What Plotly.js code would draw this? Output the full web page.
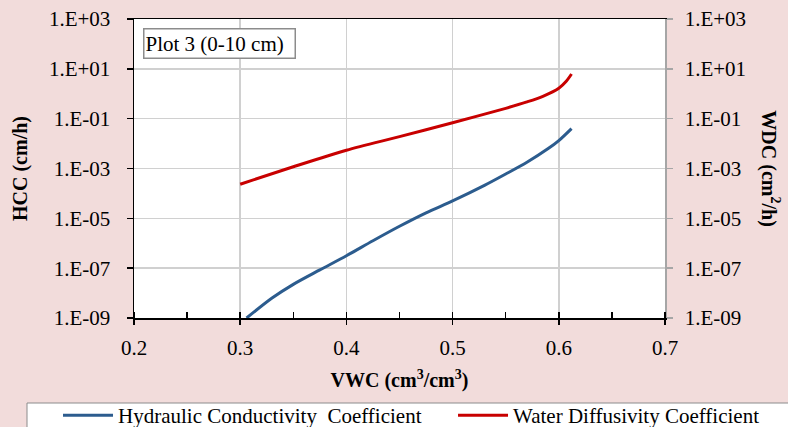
<!DOCTYPE html>
<html><head><meta charset="utf-8">
<script src="https://cdn.plot.ly/plotly-3.0.1.min.js"></script>
<style>html,body{margin:0;padding:0;background:#F2DCDB;} #chart{width:788px;height:427px;}</style>
</head><body><div id="chart"></div>
<script>
// Hydraulic Conductivity Coefficient (cm/h) vs VWC
const vwcHCC = [0.306, 0.330, 0.350, 0.375, 0.400, 0.425, 0.450, 0.475, 0.500, 0.530, 0.550, 0.570, 0.590, 0.600, 0.612];
const hcc    = [1.0e-9, 6.3e-9, 2.24e-8, 8.5e-8, 3.16e-7, 1.26e-6, 4.8e-6, 1.66e-5, 5.0e-5, 2.1e-4, 6.0e-4, 1.78e-3, 6.3e-3, 1.32e-2, 4.0e-2];
// Water Diffusivity Coefficient (cm2/h) vs VWC
const vwcWDC = [0.300, 0.350, 0.400, 0.450, 0.500, 0.550, 0.570, 0.585, 0.600, 0.607, 0.612];
const wdc    = [2.34e-4, 1.17e-3, 5.4e-3, 1.9e-2, 6.9e-2, 0.26, 0.47, 0.79, 1.66, 3.16, 6.2];

const yTickVals = [1e-9, 1e-7, 1e-5, 1e-3, 1e-1, 1e1, 1e3];
const yTickText = ["1.E-09", "1.E-07", "1.E-05", "1.E-03", "1.E-01", "1.E+01", "1.E+03"];
const xTickVals = [0.2, 0.3, 0.4, 0.5, 0.6, 0.7];
const xTickText = ["0.2", "0.3", "0.4", "0.5", "0.6", "0.7"];

const seriesNames = ["Hydraulic Conductivity  Coefficient", "Water Diffusivity Coefficient"];
const plotLabel = "Plot 3 (0-10 cm)";

const FONT = "Liberation Serif, Times New Roman, serif";

const traces = [
  {x: vwcHCC, y: hcc, name: seriesNames[0], type: 'scatter', mode: 'lines', yaxis: 'y', legend: 'legend',
   line: {color: '#2C5C8E', width: 3, shape: 'spline', smoothing: 0.8}},
  {x: vwcWDC, y: wdc, name: seriesNames[1], type: 'scatter', mode: 'lines', yaxis: 'y2', legend: 'legend2',
   line: {color: '#C80000', width: 3, shape: 'spline', smoothing: 0.8}}
];

const legendCommon = {
  orientation: 'h', xanchor: 'left', y: -0.2575, yanchor: 'top',
  bgcolor: 'rgba(0,0,0,0)', borderwidth: 0, itemwidth: 50,
  font: {family: FONT, size: 21, color: '#000'}
};

const layout = {
  width: 788, height: 427,
  paper_bgcolor: '#F2DCDB', plot_bgcolor: '#FFFFFF',
  margin: {l: 134, r: 123, t: 19, b: 109, autoexpand: false},
  font: {family: FONT, size: 21, color: '#000'},
  showlegend: true,
  legend: Object.assign({}, legendCommon, {x: -0.1431}),
  legend2: Object.assign({}, legendCommon, {x: 0.6008}),
  xaxis: {
    range: [0.2, 0.7], tickvals: xTickVals, ticktext: xTickText,
    ticks: 'outside', ticklen: 5, tickwidth: 1.5, tickcolor: '#000',
    showline: true, linecolor: '#000', linewidth: 1.5, mirror: true,
    showgrid: true, gridcolor: '#D0D0D0', gridwidth: 1.5, zeroline: false,
    tickfont: {family: FONT, size: 21, color: '#000'}, ticklabelstandoff: 5,
    minor: {dtick: 0.05, ticks: 'inside', ticklen: 6, tickwidth: 1.5, tickcolor: '#000', showgrid: false},
    title: {text: '<b>VWC (cm<sup>3</sup>/cm<sup>3</sup>)</b>', font: {family: FONT, size: 20, color: '#000'}, standoff: 14}
  },
  yaxis: {
    type: 'log', range: [-9, 3], tickvals: yTickVals, ticktext: yTickText,
    ticks: 'outside', ticklen: 6, tickwidth: 1.5, tickcolor: '#000',
    showline: true, linecolor: '#000', linewidth: 1.5,
    showgrid: true, gridcolor: '#D0D0D0', gridwidth: 1.5, zeroline: false,
    tickfont: {family: FONT, size: 21, color: '#000'}, ticklabelstandoff: 12,
    title: {text: '<b>HCC (cm/h)</b>', font: {family: FONT, size: 20, color: '#000'}, standoff: 16}
  },
  yaxis2: {
    type: 'log', range: [-9, 3], tickvals: yTickVals, ticktext: yTickText,
    overlaying: 'y', side: 'right',
    ticks: 'outside', ticklen: 6, tickwidth: 1.5, tickcolor: '#A6A6A6',
    showline: true, linecolor: '#A6A6A6', linewidth: 1.5,
    showgrid: false, zeroline: false,
    tickfont: {family: FONT, size: 21, color: '#000'}, ticklabelstandoff: 8
  },
  shapes: [
    {type: 'rect', xref: 'paper', yref: 'paper', x0: -0.2015, x1: 1.30, y0: -0.2843, y1: -0.45,
     line: {color: '#8C8C8C', width: 1}, fillcolor: '#FFFFFF', layer: 'below'}
  ],
  annotations: [
    {xref: 'paper', yref: 'paper', x: 0.017, y: 0.97, xanchor: 'left', yanchor: 'top',
     text: plotLabel, showarrow: false, align: 'left', width: 148, height: 26,
     bgcolor: '#FFFFFF', bordercolor: '#8C8C8C', borderwidth: 1.5, borderpad: 1,
     font: {family: FONT, size: 21, color: '#000'}},
    {xref: 'paper', yref: 'paper', x: 1.198, y: 0.5, xanchor: 'center', yanchor: 'middle',
     text: '<b>WDC (cm<sup>2</sup>/h)</b>', textangle: 90, showarrow: false,
     font: {family: FONT, size: 20, color: '#000'}}
  ]
};

Plotly.newPlot('chart', traces, layout, {displayModeBar: false, staticPlot: true});
</script></body></html>
